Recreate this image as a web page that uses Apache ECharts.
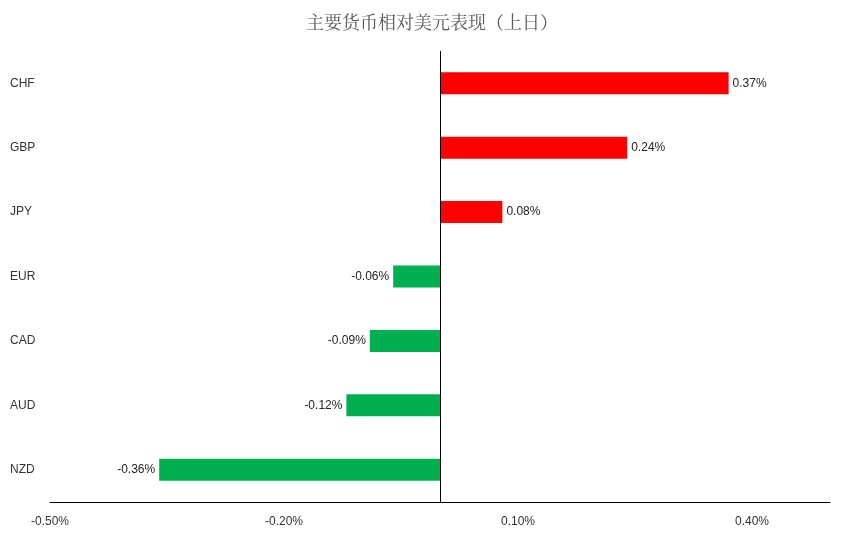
<!DOCTYPE html><html><head><meta charset="utf-8">
<script src="https://cdn.jsdelivr.net/npm/echarts@6/dist/echarts.min.js"></script>
<style>html,body{margin:0;padding:0;background:#fff}#c{width:864px;height:538px}</style></head><body><div id="c"></div><script>
const categories=['NZD','AUD','CAD','EUR','JPY','GBP','CHF'];
const values=[-0.36,-0.12,-0.09,-0.06,0.08,0.24,0.37];
const titleText='主要货币相对美元表现（上日）';
const chart=echarts.init(document.getElementById('c'));
chart.setOption({
 animation:false,
 title:{text:titleText,left:'center',top:8,textStyle:{fontFamily:'Noto Serif CJK SC, Noto Sans CJK SC, serif',fontWeight:'normal',fontSize:18,color:'#595959'}},
 grid:{left:50,right:34,top:51,bottom:36,containLabel:false},
 xAxis:{type:'value',min:-0.5,max:0.5,interval:0.3,splitLine:{show:false},
  axisLine:{show:true,onZero:false,lineStyle:{color:'#000'}},axisTick:{show:false},
  axisLabel:{color:'#333',fontSize:12,margin:14,formatter:v=>v.toFixed(2)+'%',showMaxLabel:false}},
 yAxis:{type:'category',data:categories,axisLine:{show:false},axisTick:{show:false},
  axisLabel:{color:'#333',fontSize:12,align:'left',margin:40}},
 series:[{type:'bar',data:values.map(v=>({value:v,itemStyle:{color:v>=0?'#FF0000':'#00B050'},
   label:{position:v>=0?'right':'left'}})),barWidth:22,
  label:{show:true,color:'#222',fontSize:12,distance:4,formatter:p=>p.value.toFixed(2)+'%'},
  markLine:{silent:true,symbol:'none',label:{show:false},lineStyle:{color:'#000',type:'solid',width:1},data:[{xAxis:0}]}}]
});
</script></body></html>
